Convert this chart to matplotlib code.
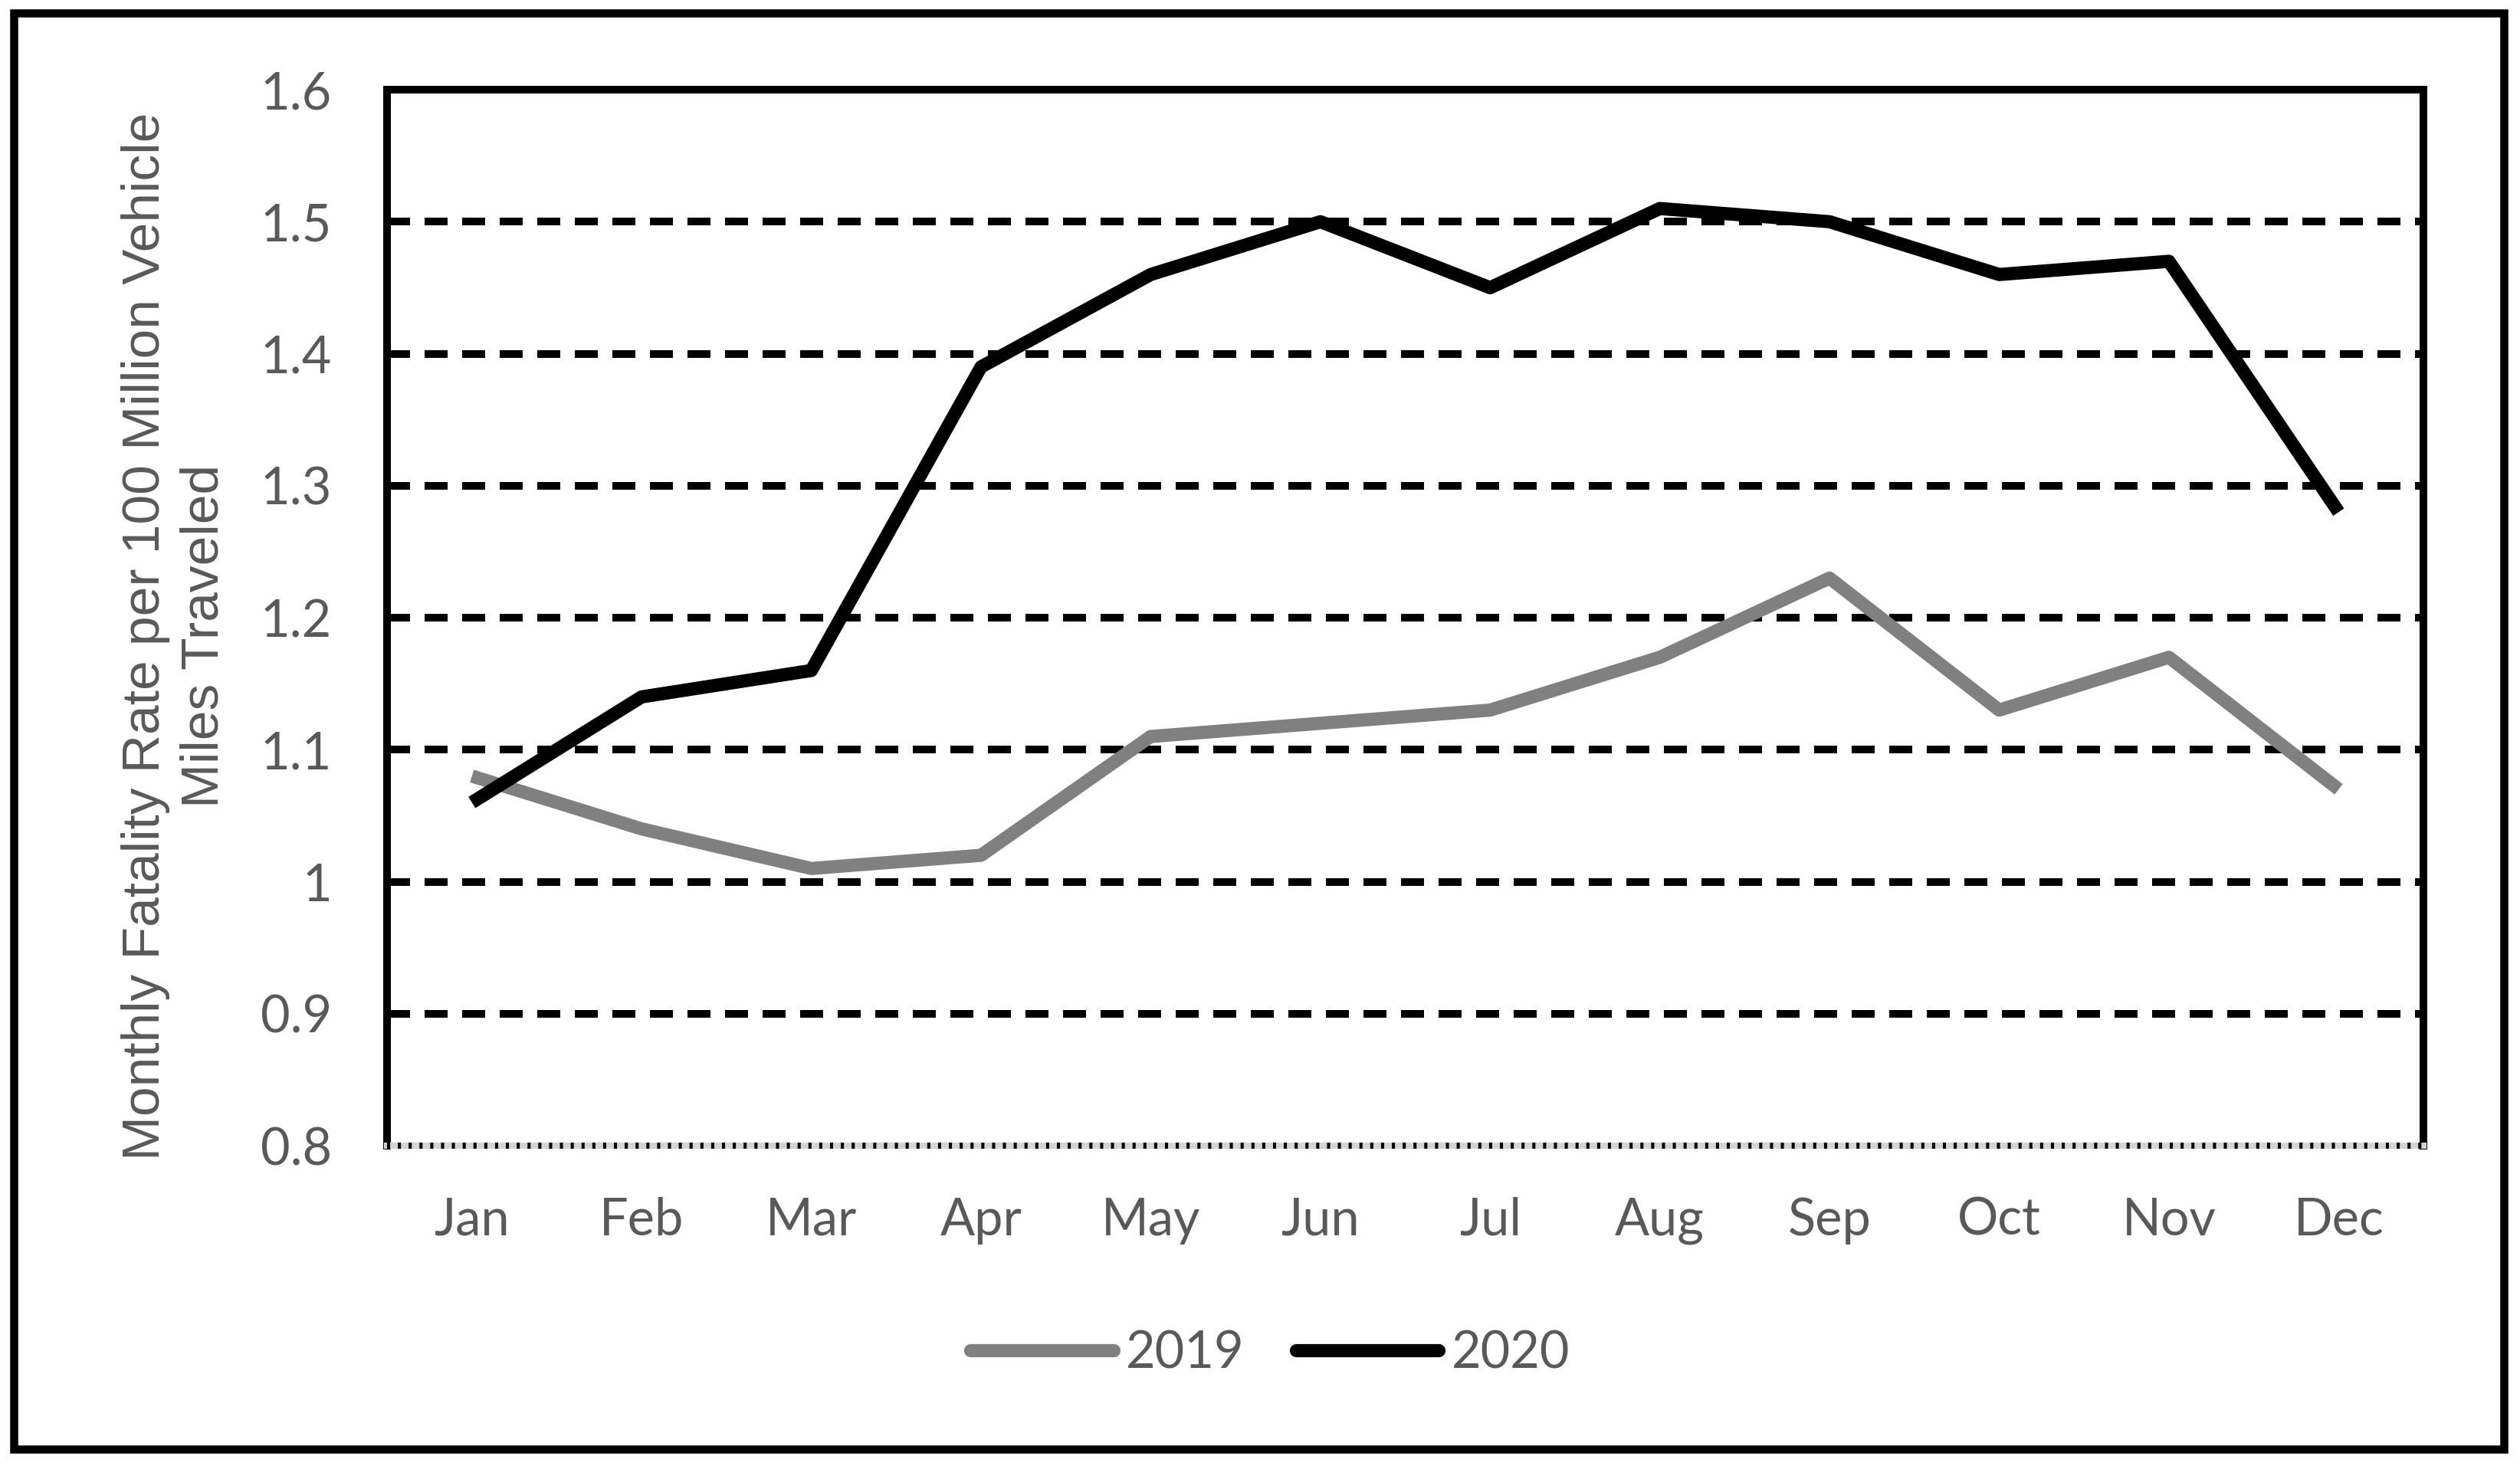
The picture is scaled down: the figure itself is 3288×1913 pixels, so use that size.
import matplotlib
matplotlib.use("Agg")
from matplotlib import pyplot as plt
from matplotlib.patches import Rectangle

# monthly fatality rate per 100 million VMT
months = ["Jan", "Feb", "Mar", "Apr", "May", "Jun",
          "Jul", "Aug", "Sep", "Oct", "Nov", "Dec"]
rate_2019 = [1.08, 1.04, 1.01, 1.02, 1.11, 1.12, 1.13, 1.17, 1.23, 1.13, 1.17, 1.07]
rate_2020 = [1.06, 1.14, 1.16, 1.39, 1.46, 1.50, 1.45, 1.51, 1.50, 1.46, 1.47, 1.28]
y_ticks = [0.8, 0.9, 1.0, 1.1, 1.2, 1.3, 1.4, 1.5, 1.6]
y_tick_labels = ["0.8", "0.9", "1", "1.1", "1.2", "1.3", "1.4", "1.5", "1.6"]

text_color = "#595959"
tick_font = "Lato"

fig = plt.figure(figsize=(16.44, 9.565), dpi=200)
ax = fig.add_axes([0.1536, 0.2185, 0.8081, 0.7203])

x = list(range(len(months)))

# dashed horizontal gridlines (not on the frame edges)
for yv in y_ticks[1:-1]:
    ax.axhline(yv, color="black", lw=3.6, linestyle=(0, (3, 1.9)), zorder=1)

ax.plot(x, rate_2019, color="#808080", lw=6.2, solid_joinstyle="round",
        solid_capstyle="butt", label="2019", zorder=3)
ax.plot(x, rate_2020, color="black", lw=6.2, solid_joinstyle="round",
        solid_capstyle="butt", label="2020", zorder=4)

ax.set_xlim(-0.5, len(months) - 0.5)
ax.set_ylim(y_ticks[0], y_ticks[-1])
ax.set_xticks(x)
ax.set_xticklabels(months)
ax.set_yticks(y_ticks)
ax.set_yticklabels(y_tick_labels)
ax.tick_params(axis="both", length=0, labelsize=24, labelcolor=text_color)
ax.tick_params(axis="y", pad=26)
ax.tick_params(axis="x", pad=24)
for lbl in ax.get_xticklabels() + ax.get_yticklabels():
    lbl.set_family(tick_font)

for side in ["left", "top", "right"]:
    ax.spines[side].set_linewidth(3.6)
    ax.spines[side].set_color("black")
# bottom edge is a dotted line on a light band
ax.spines["bottom"].set_linewidth(2.9)
ax.spines["bottom"].set_color("#d4d4d4")
ax.axhline(y_ticks[0], color="black", lw=2.9, linestyle=(0, (0.5, 1.25)),
           clip_on=False, zorder=5)

fig.text(0.0695, 0.566,
         "Monthly Fatality Rate per 100 Million Vehicle\nMiles Traveled",
         rotation=90, ha="center", va="center", multialignment="center",
         fontsize=25, color=text_color, family="Liberation Sans", linespacing=1.25)

leg = fig.legend(loc="center", bbox_to_anchor=(0.504, 0.0768), ncol=2,
                 frameon=False, handlelength=2.8, handletextpad=0.25,
                 columnspacing=1.0, prop={"family": tick_font, "size": 24})
for h in leg.legend_handles:
    h.set_solid_capstyle("round")
    h.set_linewidth(6.2)
for t in leg.get_texts():
    t.set_color(text_color)

# outer border around the whole figure
fig.patches.append(Rectangle((0.0055, 0.0115), 0.9882, 0.9795, transform=fig.transFigure,
                             fill=False, edgecolor="black", lw=3.8))

fig.savefig("out.png", dpi=200)
